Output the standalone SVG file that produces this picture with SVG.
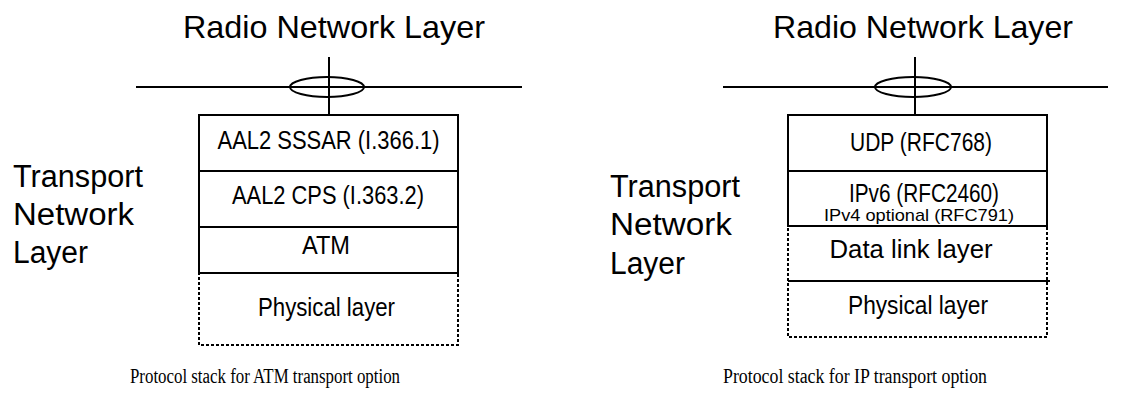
<svg xmlns="http://www.w3.org/2000/svg" width="1123" height="393" viewBox="0 0 1123 393">
<style>
.bg{fill:#fff}
.solid{fill:none;stroke:#000;stroke-width:2}
.dot{fill:none;stroke:#000;stroke-width:2;stroke-dasharray:3 2}
.ln{stroke:#000;stroke-width:2;fill:none}
.sans{font-family:"Liberation Sans",Arial,sans-serif;fill:#000}
.title{font-size:32px}
.tnl{font-size:31px}
.row{font-size:26px;text-anchor:middle}
.small{font-size:17px;text-anchor:middle}
.cap{font-family:"Liberation Serif","Times New Roman",serif;font-size:20px;text-anchor:middle;fill:#000}
</style>
<rect class="bg" x="0" y="0" width="1123" height="393"/>

<g id="connectors">
  <line class="ln" x1="136" y1="87" x2="522" y2="87"/>
  <ellipse class="ln" cx="327" cy="87" rx="37" ry="10"/>
  <line class="ln" x1="329" y1="57" x2="329" y2="115"/>
  <line class="ln" x1="723" y1="87" x2="1108" y2="87"/>
  <ellipse class="ln" cx="913" cy="87" rx="38" ry="10"/>
  <line class="ln" x1="915" y1="57" x2="915" y2="115"/>
</g>

<g id="atm-title"><text class="sans title" x="183" y="38" textLength="302" lengthAdjust="spacingAndGlyphs">Radio Network Layer</text></g>
<g id="atm-tnl" class="sans tnl">
  <text x="13" y="187" textLength="130" lengthAdjust="spacingAndGlyphs">Transport</text>
  <text x="13" y="225" textLength="121" lengthAdjust="spacingAndGlyphs">Network</text>
  <text x="13" y="263" textLength="75" lengthAdjust="spacingAndGlyphs">Layer</text>
</g>
<g id="atm-sssar">
  <rect class="solid" x="199" y="115" width="259" height="56"/>
  <text class="sans row" x="328.5" y="149" textLength="222" lengthAdjust="spacingAndGlyphs">AAL2 SSSAR (I.366.1)</text>
</g>
<g id="atm-cps">
  <rect class="solid" x="199" y="171" width="259" height="56"/>
  <text class="sans row" x="328" y="204" textLength="192" lengthAdjust="spacingAndGlyphs">AAL2 CPS (I.363.2)</text>
</g>
<g id="atm-atm">
  <rect class="solid" x="199" y="227" width="259" height="46"/>
  <text class="sans row" x="326" y="254" textLength="48" lengthAdjust="spacingAndGlyphs">ATM</text>
</g>
<g id="atm-phy">
  <rect class="dot" x="199" y="273" width="259" height="72"/>
  <text class="sans row" x="326.5" y="316" textLength="137" lengthAdjust="spacingAndGlyphs">Physical layer</text>
</g>
<g id="atm-caption"><text class="cap" x="265" y="383" textLength="270" lengthAdjust="spacingAndGlyphs">Protocol stack for ATM transport option</text></g>

<g id="ip-title"><text class="sans title" x="773" y="38" textLength="300" lengthAdjust="spacingAndGlyphs">Radio Network Layer</text></g>
<g id="ip-tnl" class="sans tnl">
  <text x="610" y="197" textLength="130" lengthAdjust="spacingAndGlyphs">Transport</text>
  <text x="610" y="235" textLength="122" lengthAdjust="spacingAndGlyphs">Network</text>
  <text x="610" y="274" textLength="75" lengthAdjust="spacingAndGlyphs">Layer</text>
</g>
<g id="ip-udp">
  <rect class="solid" x="788" y="115" width="259" height="56"/>
  <text class="sans row" x="921" y="151" textLength="142" lengthAdjust="spacingAndGlyphs">UDP (RFC768)</text>
</g>
<g id="ip-ip">
  <rect class="solid" x="788" y="171" width="259" height="55"/>
  <text class="sans row" x="924" y="202" textLength="150" lengthAdjust="spacingAndGlyphs">IPv6 (RFC2460)</text>
  <text class="sans small" x="919" y="221" textLength="190" lengthAdjust="spacingAndGlyphs">IPv4 optional (RFC791)</text>
</g>
<g id="ip-dl">
  <rect class="dot" x="788" y="226" width="259" height="111"/>
  <text class="sans row" x="911" y="258" textLength="163" lengthAdjust="spacingAndGlyphs">Data link layer</text>
</g>
<g id="ip-phy">
  <line class="ln" x1="788" y1="281" x2="1050" y2="281"/>
  <text class="sans row" x="918" y="314" textLength="140" lengthAdjust="spacingAndGlyphs">Physical layer</text>
</g>
<g id="ip-caption"><text class="cap" x="855" y="383" textLength="264" lengthAdjust="spacingAndGlyphs">Protocol stack for IP transport option</text></g>
</svg>
